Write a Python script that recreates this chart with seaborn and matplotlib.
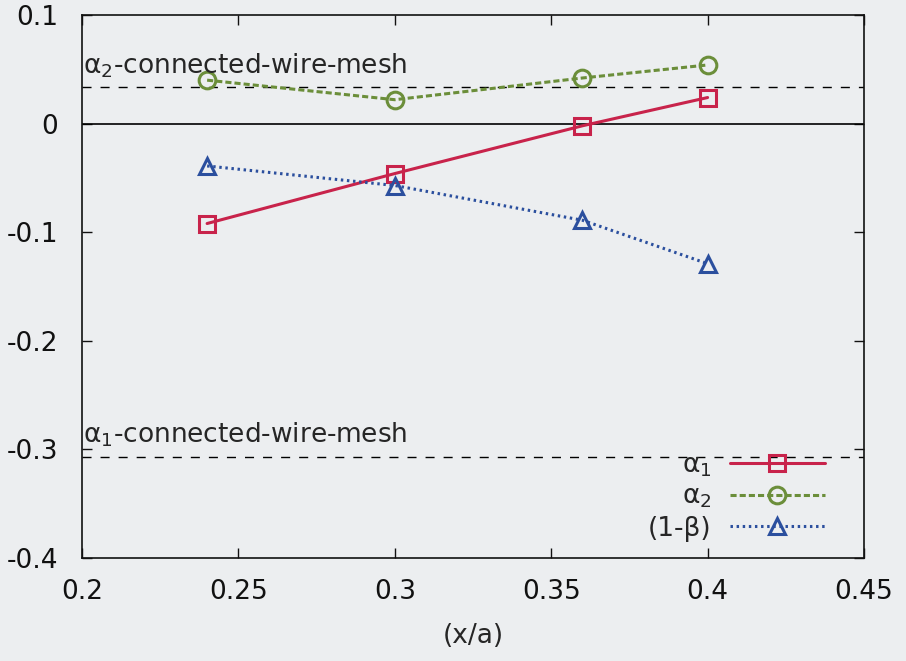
import matplotlib
matplotlib.use("Agg")
import matplotlib.pyplot as plt
import seaborn as sns
import pandas as pd

x_vals = [0.24, 0.30, 0.36, 0.40]
alpha1 = [-0.092, -0.046, -0.002, 0.024]
alpha2 = [0.040, 0.022, 0.042, 0.054]
one_minus_beta = [-0.039, -0.057, -0.089, -0.129]
alpha2_mesh = 0.034
alpha1_mesh = -0.307
x_ticks = [0.2, 0.25, 0.3, 0.35, 0.4, 0.45]
y_ticks = [-0.4, -0.3, -0.2, -0.1, 0, 0.1]
x_tick_labels = ["0.2", "0.25", "0.3", "0.35", "0.4", "0.45"]
y_tick_labels = ["-0.4", "-0.3", "-0.2", "-0.1", "0", "0.1"]

sns.set_theme(style="ticks")
plt.rcParams['font.family'] = ['DejaVu Sans']
plt.rcParams['mathtext.fontset'] = 'dejavusans'

bg = '#eceef0'
fs = 19
fig = plt.figure(figsize=(9.06, 6.61), dpi=100, facecolor=bg)
ax = fig.add_axes([82/906, 1-558/661, (864-82)/906, (558-15)/661])
ax.set_facecolor(bg)

df = pd.DataFrame({"x": x_vals, "a1": alpha1, "a2": alpha2, "b": one_minus_beta})

red = '#c8234b'
green = '#6b8e3a'
blue = '#2b4f9e'

sns.lineplot(data=df, x="x", y="a1", ax=ax, color=red, lw=2.2, marker='s',
             markersize=12, markerfacecolor='none', markeredgecolor=red,
             markeredgewidth=2.2, label=r'α$_1$')
sns.lineplot(data=df, x="x", y="a2", ax=ax, color=green, lw=2.2, linestyle=(0, (2, 1)),
             marker='o', markersize=12, markerfacecolor='none', markeredgecolor=green,
             markeredgewidth=2.2, label=r'α$_2$')
sns.lineplot(data=df, x="x", y="b", ax=ax, color=blue, lw=2.2, linestyle=(0, (0.8, 1.2)),
             marker='^', markersize=12, markerfacecolor='none', markeredgecolor=blue,
             markeredgewidth=2.2, label='(1-β)')

ax.axhline(0, color='black', lw=1.2, zorder=1)
ax.axhline(alpha2_mesh, color='black', lw=1, linestyle=(0, (6.5, 6.5)), zorder=1)
ax.axhline(alpha1_mesh, color='black', lw=1, linestyle=(0, (6.5, 6.5)), zorder=1)
ax.text(0.2003, alpha2_mesh + 0.012, r'α$_2$-connected-wire-mesh', fontsize=fs, ha='left', va='baseline')
ax.text(0.2003, alpha1_mesh + 0.013, r'α$_1$-connected-wire-mesh', fontsize=fs, ha='left', va='baseline')

ax.set_xlim(0.2, 0.45)
ax.set_ylim(-0.4, 0.1)
ax.set_xticks(x_ticks)
ax.set_xticklabels(x_tick_labels)
ax.set_yticks(y_ticks)
ax.set_yticklabels(y_tick_labels)
ax.tick_params(direction='in', top=True, right=True, length=7, width=1, labelsize=fs, colors='#111111')
ax.tick_params(axis='y', pad=17)
ax.tick_params(axis='x', pad=15)
for s in ax.spines.values():
    s.set_linewidth(1.2)
    s.set_color('#111111')
ax.set_xlabel('(x/a)', fontsize=fs, labelpad=13)
ax.set_ylabel('')

leg = ax.legend(loc='lower right', frameon=False, markerfirst=False, fontsize=fs,
                handlelength=3.6, handletextpad=0.7, labelspacing=0.2,
                borderpad=0, borderaxespad=0, bbox_to_anchor=(0.95, 0.03))

fig.savefig('out.png', dpi=100, facecolor=bg)
